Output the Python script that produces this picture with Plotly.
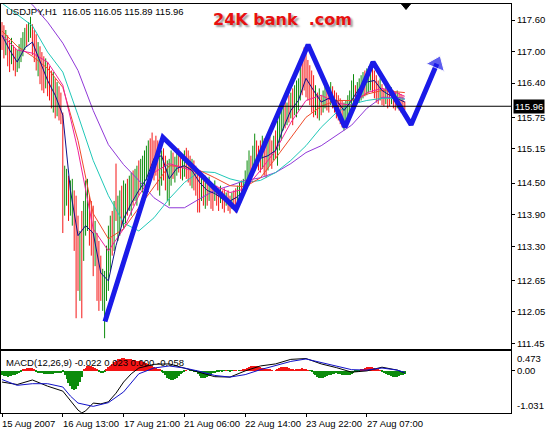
import plotly.graph_objects as go

# ---------------- data ----------------
highs = [117.56,117.50,117.41,117.31,117.22,117.26,117.12,117.07,117.03,117.14,
 117.26,117.37,117.45,117.52,117.56,117.66,117.52,117.41,117.33,117.18,
 117.10,116.99,116.91,116.87,116.80,116.72,116.64,116.61,116.49,116.42,
 116.34,116.22,115.84,114.83,114.77,114.64,114.55,114.58,114.36,114.26,
 113.88,113.59,113.97,114.16,114.55,114.58,114.26,114.16,114.07,113.78,
 113.55,113.40,113.12,112.87,112.83,113.31,113.69,113.88,113.97,114.16,
 114.87,114.26,114.36,114.45,114.55,114.49,114.58,114.64,114.70,114.74,
 114.77,114.83,114.93,114.96,115.02,115.12,115.21,115.31,115.35,115.46,
 115.31,115.40,115.31,115.21,115.12,115.16,115.02,114.93,114.96,115.12,
 115.08,115.00,115.12,115.16,115.08,115.02,115.12,115.17,115.12,115.02,
 114.96,114.93,114.83,114.74,114.70,114.64,114.58,114.64,114.55,114.62,
 114.51,114.45,114.55,114.45,114.40,114.45,114.36,114.40,114.32,114.36,
 114.26,114.32,114.36,114.40,114.45,114.51,114.55,114.58,114.74,114.93,
 115.12,115.02,115.21,115.44,115.31,115.21,115.31,115.40,115.35,115.27,
 115.31,115.38,115.31,115.40,115.50,115.69,115.79,115.88,115.98,116.07,
 116.03,116.17,116.22,116.30,116.36,116.45,116.49,116.74,116.93,117.08,
 116.99,116.84,116.74,116.64,116.55,116.36,116.22,116.30,116.17,116.26,
 116.36,116.30,116.22,116.42,116.34,116.26,116.22,116.17,116.11,116.07,
 116.03,116.07,116.17,116.26,116.45,116.57,116.36,116.42,116.49,116.55,
 116.61,116.64,116.68,116.72,116.80,116.76,116.64,116.55,116.45,116.49,
 116.38,116.30,116.34,116.30,116.26,116.32,116.26,116.22,116.26,116.22,
 116.19,116.15,116.05]

lows = [117.03,116.87,116.93,116.72,116.61,116.76,116.64,116.53,116.61,116.68,
 116.80,116.91,117.03,117.10,117.18,117.26,116.93,116.80,116.64,116.53,
 116.38,116.26,116.21,116.30,116.15,116.07,115.92,115.84,115.73,115.77,
 115.69,115.62,113.55,113.88,114.07,113.78,113.88,113.69,113.21,111.93,
 112.45,112.26,111.93,113.02,113.50,113.59,113.31,113.12,112.73,112.92,
 112.26,112.07,112.26,112.07,111.55,112.26,112.45,112.83,113.12,113.21,
 113.78,113.40,113.50,113.69,113.63,113.74,113.88,113.97,113.88,114.07,
 114.16,114.07,114.26,114.36,114.32,114.45,114.55,114.58,114.64,114.83,
 114.55,114.64,114.36,114.26,114.45,114.55,114.36,114.16,114.07,114.45,
 114.58,114.51,114.64,114.70,114.58,114.55,114.62,114.58,114.51,114.45,
 114.40,114.36,114.26,113.94,113.94,114.16,114.07,114.01,114.07,114.16,
 114.01,113.97,114.16,114.07,113.97,114.12,114.01,113.94,114.07,113.97,
 113.92,114.01,114.07,113.94,114.16,114.20,114.20,114.26,114.32,114.40,
 114.45,114.55,114.64,114.74,114.83,114.74,114.70,114.77,114.64,114.60,
 114.74,114.83,114.77,114.93,114.96,114.83,115.12,115.31,115.50,115.54,
 115.60,115.65,115.73,115.60,115.79,115.75,115.88,116.07,116.17,116.26,
 116.13,116.07,115.98,115.84,115.75,115.79,115.73,115.69,115.79,115.84,
 115.92,115.88,115.84,115.98,115.92,115.84,115.73,115.69,115.62,115.56,
 115.50,115.60,115.73,115.84,115.88,115.98,115.92,116.00,116.03,116.07,
 116.11,116.15,116.17,116.22,116.26,116.22,116.11,116.03,116.00,116.07,
 115.98,115.96,116.00,115.92,115.96,116.00,115.92,115.88,115.92,115.88,
 115.84,115.82,115.89]

up_bar = [0,0,1,0,0,1,0,0,1,1, 1,1,1,0,1,1,0,0,0,1, 0,0,0,1,0,0,0,1,0,1,
 0,0,0,1,1,0,1,1,0,0, 0,1,0,1,1,1,0,0,0,1, 0,0,0,1,1,1,1,1,0,1,
 0,1,1,0,1,1,0,1,1,0, 1,1,0,1,1,1,1,1,0,0, 0,0,0,1,1,0,0,1,1,1,
 0,1,1,0,0,1,1,0,0,0, 1,0,0,0,0,1,0,1,0,1, 0,0,1,0,0,1,0,0,1,0,
 0,1,0,0,1,1,0,1,1,1, 1,0,1,1,0,0,0,1,0,0, 1,0,0,1,0,1,1,1,1,0,
 1,0,1,0,1,1,1,1,0,0, 0,0,0,0,0,1,0,1,0,1, 1,0,0,1,0,0,0,0,0,0,
 1,1,1,1,1,1,0,1,1,1, 1,0,1,1,1,0,0,0,0,1, 0,0,1,0,0,1,0,0,1,0,
 0,0,0]

# moving averages (sampled every 8 bars, fast one every 4 bars)
ma_bars = [0,8,16,24,32,40,48,56,64,72,80,88,96,104,112,120,128,136,144,152,160,168,176,184,192,200,208,212]
ma_purple = [118.46,118.17,117.89,117.56,117.16,116.64,115.88,115.23,114.85,114.55,114.22,114.03,114.03,114.20,
 114.36,114.45,114.55,114.60,114.70,114.87,115.08,115.21,115.41,115.60,115.92,116.13,116.13,116.11]
ma_cyan = [117.92,117.71,117.49,116.99,116.61,115.79,114.93,114.26,113.74,113.59,113.84,114.20,114.51,114.72,
 114.70,114.58,114.51,114.55,114.70,114.93,115.21,115.56,115.84,116.00,116.07,116.11,116.11,116.09]
ma_red = [117.39,117.10,116.91,116.68,116.32,115.31,113.92,113.44,113.63,114.03,114.45,114.83,114.81,114.74,
 114.60,114.45,114.43,114.60,114.97,115.35,115.75,115.96,116.07,116.07,116.19,116.26,116.24,116.22]
ma_magenta = [117.31,117.03,116.97,116.80,116.36,115.12,113.63,113.21,113.63,114.26,114.70,114.87,114.78,114.70,
 114.45,114.32,114.39,114.74,115.12,115.65,116.07,116.17,116.02,115.98,116.22,116.30,116.21,116.15]
fast_bars = list(range(0, 213, 4))
ma_fast = [117.31,117.03,116.80,117.07,117.18,116.80,116.45,116.17,115.79,114.36,113.50,113.69,113.55,112.79,
 112.64,113.31,113.82,114.11,114.36,114.58,114.97,115.02,114.58,114.78,114.83,114.74,114.51,114.36,
 114.30,114.20,114.16,114.24,114.39,114.74,114.97,115.02,115.12,115.54,115.88,116.07,116.49,116.26,
 116.04,116.11,116.07,115.88,116.07,116.30,116.42,116.45,116.26,116.17,116.11,116.04]

# hand-drawn zigzag (bar index, price)
zz_bars = [54.2, 84.7, 123.2, 161.1, 180.5, 195.3, 215.3, 228.9]
zz_price = [111.87, 115.37, 114.00, 117.13, 115.56, 116.80, 115.61, 116.77]

# MACD panel
macd_hist = [-0.12,-0.13,-0.14,-0.15,-0.14,-0.13,-0.12,-0.10,-0.08,-0.06,-0.03,
 0.02,0.04,0.06,0.07,0.06,0.05,0.03,
 -0.03,-0.05,-0.06,-0.07,-0.08,-0.08,-0.09,-0.09,-0.08,-0.08,-0.07,-0.07,-0.06,-0.05,-0.04,
 -0.10,-0.20,-0.30,-0.38,-0.44,-0.47,-0.45,-0.38,-0.28,-0.15,
 0.03,0.07,0.10,0.12,0.11,0.08,0.05,0.02,
 -0.03,-0.05,-0.05,-0.03,
 0.04,0.08,0.12,0.16,0.20,0.24,0.27,0.29,0.30,0.30,0.29,0.28,0.27,0.27,0.26,0.25,0.24,0.23,0.22,0.21,
 0.20,0.18,0.16,0.14,0.12,0.09,0.06,0.04,0.02,
 -0.02,-0.06,-0.12,-0.17,-0.21,-0.23,-0.22,-0.20,-0.17,-0.13,-0.09,-0.05,-0.02,
 0.01,0.00,-0.01,-0.01,-0.02,-0.04,
 -0.08,-0.13,-0.17,-0.19,-0.18,-0.16,-0.13,-0.10,-0.07,-0.05,-0.03,
 -0.02,-0.01,-0.02,-0.01,0.01,-0.01,-0.02,-0.01,0.01,0.01,0.00,-0.01,0.01,0.02,0.03,
 0.05,0.08,0.10,0.11,0.11,0.10,0.09,0.08,0.06,0.05,0.04,0.03,0.02,
 0.01,0.00,0.01,
 0.03,0.06,0.08,0.09,0.09,0.08,0.06,0.04,0.02,
 0.01,0.02,0.03,0.04,0.05,0.04,0.03,0.01,-0.01,
 -0.04,-0.08,-0.12,-0.16,-0.18,-0.19,-0.18,-0.16,-0.14,-0.12,-0.10,-0.09,-0.08,-0.07,-0.08,-0.09,
 -0.10,-0.11,-0.12,-0.11,-0.10,-0.08,-0.06,-0.04,-0.03,-0.01,
 0.02,0.04,0.06,0.08,0.09,0.09,0.08,0.06,0.04,0.02,0.01,
 -0.03,-0.05,-0.08,-0.10,-0.12,-0.14,-0.15,-0.16,-0.15,-0.14,-0.12,-0.10,-0.08]
macd_bars = [0,8,16,24,32,36,40,42,44,48,52,56,60,64,68,72,80,88,96,104,112,120,128,136,144,152,160,168,176,184,192,200,208,212]
macd_main = [-0.28,-0.34,-0.23,-0.38,-0.50,-0.74,-0.96,-1.03,-0.98,-0.79,-0.81,-0.76,-0.55,-0.28,-0.08,0.06,0.15,0.16,
 0.06,-0.05,-0.15,-0.16,-0.01,0.11,0.16,0.27,0.29,0.16,0.07,-0.04,-0.01,0.08,0.01,-0.06]
signal_bars = [0,8,16,24,32,36,40,48,56,64,72,80,88,96,104,112,120,128,136,144,152,160,168,176,184,192,200,208,212]
macd_signal = [-0.22,-0.36,-0.32,-0.32,-0.40,-0.62,-0.79,-0.87,-0.78,-0.52,-0.08,0.06,0.11,0.06,-0.02,-0.12,-0.16,
 -0.10,0.02,0.12,0.22,0.28,0.19,0.11,0.02,0.01,0.06,0.01,-0.05]

price_ticks = [117.60, 117.00, 116.40, 115.75, 115.15, 114.50, 113.90, 113.30, 112.65, 112.05, 111.45]
last_price = 115.96
time_label_bars = [0, 32, 64, 96, 128, 160, 192]
time_labels = ["15 Aug 2007", "16 Aug 13:00", "17 Aug 21:00", "21 Aug 06:00",
               "22 Aug 14:00", "23 Aug 22:00", "27 Aug 07:00"]
title_text = "USDJPY,H1\u00a0\u00a0116.05 116.05 115.89 115.96"
macd_text = "MACD(12,26,9) -0.022 0.023 0.000 -0.058"
macd_max, macd_min = 0.473, -1.031

# ---------------- layout geometry ----------------
W, H = 546, 435
ML, MR, MT, MB = 1, 35, 4, 22
PW = W - ML - MR
PH = H - MT - MB

def fx(p):  # pixel x -> paper
    return (p - ML) / PW

def fy(p):  # pixel y -> paper
    return (H - MB - p) / PH

BAR_PX = 1.9
x0 = (ML - 2) / BAR_PX
xr = [x0, x0 + PW / BAR_PX]

FONT = "Liberation Sans"
RED, GREEN = "#f41414", "#0c8c0c"

fig = go.Figure()

# OHLC bars as vertical lines
for flag, col in ((1, GREEN), (0, RED)):
    xs, ys = [], []
    for i, (h, l, u) in enumerate(zip(highs, lows, up_bar)):
        if u == flag:
            xs += [i, i, None]
            ys += [h, l, None]
    fig.add_trace(go.Scatter(x=xs, y=ys, mode="lines", line=dict(color=col, width=1),
                             hoverinfo="skip", xaxis="x", yaxis="y"))

# moving averages
for xs, ys, col in ((ma_bars, ma_purple, "#9038d8"), (ma_bars, ma_cyan, "#20c8b8"),
                    (ma_bars, ma_red, "#f04a2a"), (ma_bars, ma_magenta, "#f0209a"),
                    (fast_bars, ma_fast, "#10108a")):
    fig.add_trace(go.Scatter(x=xs, y=ys, mode="lines", line=dict(color=col, width=1),
                             hoverinfo="skip", xaxis="x", yaxis="y"))

# zigzag with arrow head
ZZ = "#1a1ae8"
fig.add_trace(go.Scatter(x=zz_bars, y=zz_price, mode="lines+markers",
                         line=dict(color=ZZ, width=5),
                         marker=dict(size=[0] * (len(zz_bars) - 1) + [17], color=ZZ,
                                     symbol="triangle-up", angleref="previous"),
                         hoverinfo="skip", cliponaxis=False, xaxis="x", yaxis="y"))

# MACD histogram and lines
fig.add_trace(go.Bar(x=list(range(len(macd_hist))), y=macd_hist, width=0.55,
                     marker=dict(color=[RED if v > 0 else GREEN for v in macd_hist], line_width=0),
                     hoverinfo="skip", xaxis="x2", yaxis="y2"))
fig.add_trace(go.Scatter(x=macd_bars, y=macd_main, mode="lines", line=dict(color="black", width=1),
                         hoverinfo="skip", xaxis="x2", yaxis="y2"))
fig.add_trace(go.Scatter(x=signal_bars, y=macd_signal, mode="lines", line=dict(color="#1010c8", width=1),
                         hoverinfo="skip", xaxis="x2", yaxis="y2"))

axis_common = dict(showgrid=False, zeroline=False, showline=True, linecolor="black",
                   linewidth=1, mirror=True)
main_lo = 117.60 - (349 - 20) / 52.6
main_hi = 117.60 + (20 - 4) / 52.6

fig.update_layout(
    width=W, height=H, margin=dict(l=ML, r=MR, t=MT, b=MB),
    paper_bgcolor="white", plot_bgcolor="white", showlegend=False, hovermode=False,
    font=dict(family=FONT, size=10, color="black"),
    xaxis=dict(domain=[0, 1], range=xr, anchor="y", showticklabels=False, ticks="", **axis_common),
    yaxis=dict(domain=[fy(349), 1], range=[main_lo, main_hi], side="right", anchor="x",
               tickvals=price_ticks, ticktext=[f"{v:.2f}" for v in price_ticks],
               ticks="outside", ticklen=3, tickcolor="black",
               tickfont=dict(family=FONT, size=9.5, color="black"), **axis_common),
    xaxis2=dict(domain=[0, 1], range=xr, anchor="y2", showticklabels=False,
                tickvals=time_label_bars, ticks="outside", ticklen=3, tickcolor="black", **axis_common),
    yaxis2=dict(domain=[0, fy(351)], range=[macd_min, macd_max], side="right", anchor="x2",
                tickvals=[0], ticktext=["0.00"], ticks="outside", ticklen=3, tickcolor="black",
                tickfont=dict(family=FONT, size=9.5, color="black"), **axis_common),
)

shapes = [
    dict(type="line", xref="paper", yref="y", x0=0, x1=1, y0=last_price, y1=last_price,
         line=dict(color="black", width=1)),
    dict(type="path", xref="paper", yref="paper",
         path=f"M {fx(401.5)},{fy(4)} L {fx(410.5)},{fy(4)} L {fx(406)},{fy(9.5)} Z",
         fillcolor="black", line=dict(color="black", width=1)),
]
fig.update_layout(shapes=shapes)

ann = []
ann.append(dict(x=fx(4), y=fy(12), xref="paper", yref="paper", xanchor="left", yanchor="middle",
                text=title_text, showarrow=False, font=dict(family=FONT, size=9.5, color="black")))
ann.append(dict(x=fx(211), y=fy(19), xref="paper", yref="paper", xanchor="left", yanchor="middle",
                text="<b>24K bank\u00a0\u00a0.com</b>", showarrow=False,
                font=dict(family="DejaVu Sans", size=16, color="#e81010",
                          shadow="2px 2px 2px #9a9a9a")))
ann.append(dict(x=1, y=last_price, xref="paper", yref="y", xanchor="left", yanchor="middle", xshift=2,
                text=f"{last_price:.2f}", showarrow=False, bgcolor="black", borderpad=1,
                font=dict(family=FONT, size=9.5, color="white")))
ann.append(dict(x=fx(4), y=fy(362), xref="paper", yref="paper", xanchor="left", yanchor="middle",
                text=macd_text, showarrow=False, font=dict(family=FONT, size=9.5, color="black")))
ann.append(dict(x=1, y=macd_max, xref="paper", yref="y2", xanchor="left", yanchor="top", xshift=4,
                text=f"{macd_max:.3f}", showarrow=False, font=dict(family=FONT, size=9.5, color="black")))
ann.append(dict(x=1, y=macd_min, xref="paper", yref="y2", xanchor="left", yanchor="bottom", xshift=4,
                text=f"{macd_min:.3f}", showarrow=False, font=dict(family=FONT, size=9.5, color="black")))
for b, t in zip(time_label_bars, time_labels):
    ann.append(dict(x=b, y=0, xref="x2", yref="paper", xanchor="left", yanchor="top", yshift=-3, xshift=-2,
                    text=t, showarrow=False, font=dict(family=FONT, size=9.5, color="black")))
fig.update_layout(annotations=ann)

post = (
    "document.body.style.margin='0';document.body.style.overflow='hidden';"
    "document.querySelectorAll('.barlayer path').forEach(function(p){p.style.shapeRendering='crispEdges';});"
)
fig.write_html("out.html", config={"displayModeBar": False}, post_script=post)
